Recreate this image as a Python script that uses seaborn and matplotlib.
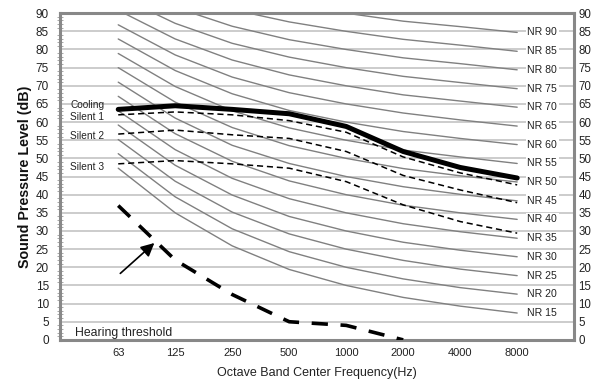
import numpy as np
import pandas as pd
import matplotlib
matplotlib.use("Agg")
import matplotlib.pyplot as plt
import seaborn as sns

# octave band centre frequencies (categorical x axis)
freqs = ["63", "125", "250", "500", "1000", "2000", "4000", "8000"]

# NR curves (dB at each band)
nr_levels = [15, 20, 25, 30, 35, 40, 45, 50, 55, 60, 65, 70, 75, 80, 85, 90]
nr_spl = [
    [47.3, 35.0, 25.9, 19.4, 15.0, 11.7, 9.3, 7.4],
    [51.3, 39.4, 30.6, 24.3, 20.0, 16.8, 14.4, 12.6],
    [55.2, 43.7, 35.2, 29.2, 25.0, 21.9, 19.5, 17.7],
    [59.2, 48.1, 39.9, 34.0, 30.0, 26.9, 24.7, 22.9],
    [63.1, 52.4, 44.5, 38.9, 35.0, 32.0, 29.8, 28.0],
    [67.1, 56.8, 49.2, 43.8, 40.0, 37.1, 35.0, 33.2],
    [71.0, 61.1, 53.6, 48.6, 45.0, 42.2, 40.1, 38.3],
    [75.0, 65.5, 58.5, 53.5, 50.0, 47.2, 45.2, 43.5],
    [78.9, 69.8, 63.1, 58.4, 55.0, 52.3, 50.4, 48.6],
    [82.9, 74.2, 67.8, 63.2, 60.0, 57.4, 55.5, 53.8],
    [86.8, 78.5, 72.4, 68.1, 65.0, 62.5, 60.6, 58.9],
    [90.8, 82.9, 77.1, 73.0, 70.0, 67.5, 65.8, 64.1],
    [94.7, 87.2, 81.7, 77.9, 75.0, 72.6, 70.9, 69.2],
    [98.7, 91.6, 86.4, 82.7, 80.0, 77.7, 76.1, 74.4],
    [102.6, 95.9, 91.0, 87.6, 85.0, 82.8, 81.2, 79.5],
    [106.6, 100.3, 95.7, 92.5, 90.0, 87.8, 86.3, 84.7],
]

# measured spectra
cooling = [63.5, 64.5, 63.5, 62.3, 58.8, 51.9, 47.5, 44.6]
silent1 = [62.0, 62.8, 62.0, 60.4, 57.2, 50.4, 46.0, 42.7]
silent2 = [56.7, 57.8, 56.5, 55.5, 51.9, 45.3, 41.3, 37.8]
silent3 = [48.5, 49.4, 48.5, 47.3, 43.6, 37.2, 32.6, 29.4]
threshold = [37.0, 22.0, 12.5, 5.0, 4.0, 0.0]

sns.set_style("white")
plt.rcParams["font.family"] = ["Liberation Sans", "DejaVu Sans"]

fig = plt.figure(figsize=(5.95, 3.88), dpi=100)
ax = fig.add_axes([0.101, 0.124, 0.864, 0.842])

pos = np.arange(len(freqs))

# NR curves
nr_df = pd.DataFrame(
    [(f"NR {lv}", i, v) for lv, row in zip(nr_levels, nr_spl) for i, v in enumerate(row)],
    columns=["curve", "x", "spl"],
)
sns.lineplot(data=nr_df, x="x", y="spl", units="curve", estimator=None,
             color="#808080", lw=1.0, legend=False, ax=ax, zorder=2)

for lv, row in zip(nr_levels, nr_spl):
    ax.text(7.18, row[-1], f"NR {lv}", ha="left", va="center", fontsize=7.6,
            color="#222222", zorder=4,
            bbox=dict(facecolor="white", edgecolor="none", pad=1.2))

# measured lines
sns.lineplot(x=pos, y=cooling, color="black", lw=3.6, ax=ax, zorder=5)
for s in (silent1, silent2, silent3):
    sns.lineplot(x=pos, y=s, color="black", lw=1.1, ax=ax, zorder=5,
                 linestyle=(0, (4, 2.5)))
sns.lineplot(x=pos[:len(threshold)], y=threshold, color="black", lw=2.6, ax=ax,
             zorder=5, linestyle=(0, (4.5, 3.5)))

# series labels
ax.text(-0.84, 64.6, "Cooling", fontsize=7.3, va="center", color="#222222")
ax.text(-0.84, 61.4, "Silent 1", fontsize=7.3, va="center", color="#222222")
ax.text(-0.84, 56.3, "Silent 2", fontsize=7.3, va="center", color="#222222")
ax.text(-0.84, 47.5, "Silent 3", fontsize=7.3, va="center", color="#222222")
ax.text(-0.75, 2.0, "Hearing threshold", fontsize=8.8, va="center", color="#222222")
ax.annotate("", xy=(0.67, 27.2), xytext=(0.0, 17.8),
            arrowprops=dict(arrowstyle="-|>", color="black", lw=1.2,
                            mutation_scale=20), zorder=6)

# axes styling
ax.set_xlim(-1.02, 8.0)
ax.set_ylim(0, 90)
ax.set_xticks(pos)
ax.set_xticklabels(freqs)
ax.set_yticks(np.arange(0, 91, 5))
ax.set_yticks(np.arange(0, 91, 1), minor=True)
ax.yaxis.grid(True, color="#c4c4c4", lw=1.2)
ax.set_axisbelow(True)
for sp in ax.spines.values():
    sp.set_color("#888888")
    sp.set_linewidth(2.2)
ax.tick_params(axis="x", direction="in", length=3, color="#888888",
               labelsize=8, labelcolor="#222222", pad=6)
ax.tick_params(axis="y", which="major", length=0, labelsize=8.5,
               labelcolor="#222222", pad=8)
ax.tick_params(axis="y", which="minor", direction="inout", length=4,
               width=0.6, color="#999999", left=True)
ax.set_xlabel("Octave Band Center Frequency(Hz)", fontsize=9,
              color="#222222", labelpad=6)
ax.set_ylabel("Sound Pressure Level (dB)", fontsize=10.3, fontweight="bold",
              color="#111111", labelpad=3)

ax2 = ax.twinx()
ax2.set_ylim(0, 90)
ax2.set_yticks(np.arange(0, 91, 5))
ax2.tick_params(axis="y", length=0, labelsize=8.3, labelcolor="#222222", pad=3)
for sp in ax2.spines.values():
    sp.set_visible(False)

fig.savefig("out.png", dpi=100)
